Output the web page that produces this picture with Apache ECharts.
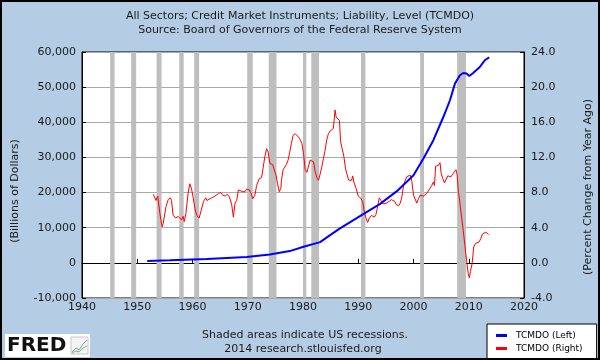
<!DOCTYPE html>
<html>
<head>
<meta charset="utf-8">
<script src="https://cdn.jsdelivr.net/npm/echarts@6/dist/echarts.min.js"></script>
<style>
html,body{margin:0;padding:0;background:#B4CDE5;}
#chart{width:600px;height:360px;}
</style>
</head>
<body>
<div id="chart"></div>
<script>
// ---- data ----
var xTicks = [1940, 1950, 1960, 1970, 1980, 1990, 2000, 2010, 2020];
var leftTicks = [-10000, 0, 10000, 20000, 30000, 40000, 50000, 60000];
var rightTicks = [-4, 0, 4, 8, 12, 16, 20, 24];

var levelYears = [1951.8, 1955.9, 1962.6, 1969.8, 1974.0, 1977.6, 1980.1, 1983.1, 1984.9, 1986.7, 1990.9, 1993.9, 1997.0, 2000.0, 2001.8, 2003.6, 2005.4, 2006.6, 2007.5, 2008.4, 2009.0, 2009.6, 2010.1, 2010.8, 2012.0, 2012.9, 2013.7];
var levelValues = [510, 710, 1080, 1650, 2400, 3350, 4600, 5900, 7900, 9800, 13870, 16700, 20400, 24950, 29700, 34900, 41500, 46270, 51000, 53370, 54030, 53860, 53170, 54030, 55730, 57640, 58490];

var pctYears = [1952.9, 1953.4, 1953.7, 1954.1, 1954.5, 1954.7, 1955.2, 1955.6, 1956.0, 1956.2, 1956.5, 1957.0, 1957.4, 1957.7, 1958.0, 1958.3, 1958.5, 1958.8, 1959.2, 1959.5, 1959.8, 1960.1, 1960.5, 1960.8, 1961.2, 1961.5, 1962.0, 1962.4, 1962.6, 1963.2, 1963.8, 1964.3, 1964.7, 1965.1, 1965.5, 1965.9, 1966.3, 1966.7, 1967.1, 1967.4, 1967.7, 1968.0, 1968.3, 1968.6, 1969.1, 1969.5, 1969.8, 1970.3, 1970.6, 1970.9, 1971.3, 1971.6, 1972.1, 1972.5, 1972.8, 1973.1, 1973.4, 1973.7, 1974.0, 1974.5, 1974.8, 1975.1, 1975.4, 1975.7, 1976.0, 1976.1, 1976.4, 1976.7, 1977.0, 1977.3, 1977.6, 1977.9, 1978.2, 1978.6, 1978.9, 1979.2, 1979.5, 1979.8, 1980.1, 1980.4, 1980.7, 1981.0, 1981.3, 1981.6, 1981.9, 1982.2, 1982.5, 1982.8, 1983.1, 1983.4, 1983.7, 1984.0, 1984.3, 1984.6, 1984.9, 1985.2, 1985.5, 1985.8, 1986.0, 1986.3, 1986.6, 1986.8, 1987.1, 1987.4, 1987.7, 1988.0, 1988.3, 1988.5, 1988.8, 1989.0, 1989.2, 1989.6, 1990.0, 1990.4, 1990.8, 1991.1, 1991.4, 1991.7, 1992.0, 1992.4, 1992.9, 1993.2, 1993.5, 1993.8, 1994.1, 1994.5, 1994.8, 1995.1, 1995.6, 1996.0, 1996.3, 1996.6, 1996.9, 1997.3, 1997.6, 1997.9, 1998.2, 1998.5, 1998.8, 1999.1, 1999.4, 1999.7, 2000.0, 2000.3, 2000.6, 2000.9, 2001.2, 2001.5, 2001.8, 2002.1, 2002.4, 2002.7, 2003.0, 2003.3, 2003.6, 2003.8, 2004.0, 2004.2, 2004.5, 2004.8, 2005.0, 2005.3, 2005.6, 2005.9, 2006.2, 2006.5, 2006.8, 2007.1, 2007.4, 2007.7, 2007.9, 2008.1, 2008.4, 2008.7, 2009.0, 2009.3, 2009.6, 2009.9, 2010.1, 2010.3, 2010.6, 2010.9, 2011.2, 2011.5, 2011.9, 2012.2, 2012.5, 2012.8, 2013.1, 2013.4, 2013.6];
var pctValues = [7.8, 7.1, 7.6, 5.6, 4.1, 4.5, 6.4, 7.2, 7.4, 7.1, 5.4, 5.1, 5.3, 5.4, 4.9, 5.3, 4.7, 5.6, 7.9, 9.0, 8.5, 7.5, 6.0, 5.4, 5.1, 5.8, 7.0, 7.4, 7.1, 7.3, 7.5, 7.7, 7.9, 8.0, 7.7, 7.6, 7.8, 7.5, 6.6, 5.2, 6.8, 7.1, 8.3, 8.5, 8.1, 8.1, 8.4, 8.3, 7.9, 7.3, 7.7, 8.8, 9.6, 9.7, 10.9, 12.1, 13.0, 12.6, 11.3, 11.2, 11.1, 10.0, 9.0, 8.1, 8.5, 9.4, 10.6, 10.9, 11.2, 11.7, 12.6, 13.6, 14.5, 14.7, 14.5, 14.3, 14.0, 13.6, 12.4, 10.6, 10.3, 10.2, 11.7, 11.9, 11.5, 10.4, 9.7, 9.4, 10.1, 10.9, 11.9, 12.8, 14.0, 14.7, 15.0, 14.9, 15.3, 17.4, 16.6, 16.4, 16.2, 13.8, 13.6, 12.1, 10.7, 10.0, 9.4, 9.5, 9.4, 9.9, 9.2, 8.5, 7.6, 7.4, 7.0, 5.8, 5.1, 4.6, 5.1, 5.4, 5.2, 5.5, 6.4, 7.4, 7.1, 6.7, 6.5, 6.8, 7.0, 7.2, 7.1, 7.0, 6.6, 6.5, 6.8, 7.5, 8.8, 9.4, 9.8, 9.6, 10.0, 9.3, 7.7, 7.5, 6.8, 7.3, 7.7, 7.5, 7.6, 7.5, 7.9, 7.7, 8.5, 8.8, 9.2, 8.8, 11.0, 10.9, 11.1, 11.4, 10.2, 9.6, 9.1, 9.3, 9.9, 10.0, 9.8, 10.1, 10.3, 10.6, 10.0, 8.3, 6.8, 5.2, 3.7, 2.0, 0.3, -1.2, -1.7, -1.0, -0.1, 1.8, 2.2, 2.1, 2.4, 2.8, 3.3, 3.5, 3.5, 3.3, 3.2];

var recessionStarts = [1945.1, 1948.9, 1953.5, 1957.6, 1960.3, 1969.9, 1973.8, 1980.0, 1981.5, 1990.5, 2001.2, 2007.9];
var recessionEnds   = [1945.9, 1949.8, 1954.4, 1958.4, 1961.2, 1970.9, 1975.2, 1980.6, 1982.9, 1991.3, 2001.9, 2009.5];

var titleLines = ['All Sectors; Credit Market Instruments; Liability, Level (TCMDO)', 'Source: Board of Governors of the Federal Reserve System'];
var footLines = ['Shaded areas indicate US recessions.', '2014 research.stlouisfed.org'];
var seriesNames = ['TCMDO (Left)', 'TCMDO (Right)'];

// ---- build ----
function zip(a, b) { return a.map(function (v, i) { return [v, b[i]]; }); }
function commas(v) {
  var s = String(Math.abs(v)).replace(/\B(?=(\d{3})+(?!\d))/g, ',');
  return (v < 0 ? '-' : '') + s;
}
var FONT = 'DejaVu Sans';
var chart = echarts.init(document.getElementById('chart'), null, {renderer: 'canvas'});

var recessionAreas = recessionStarts.map(function (s, i) {
  return [{xAxis: s}, {xAxis: recessionEnds[i]}];
});

chart.setOption({
  backgroundColor: '#B4CDE5',
  animation: false,
  textStyle: {fontFamily: FONT},
  title: {
    text: titleLines.join('\n'),
    left: 'center', top: 4,
    textStyle: {fontFamily: FONT, fontSize: 11, fontWeight: 'normal', color: '#1a1a1a', lineHeight: 14}
  },
  grid: {left: 82, right: 76, top: 52, bottom: 62, show: true, backgroundColor: '#fff', borderColor: '#000', borderWidth: 1},
  legend: {
    data: seriesNames, orient: 'vertical', left: 487, top: 324,
    icon: 'rect', itemWidth: 11, itemHeight: 3, itemGap: 4,
    padding: [7, 14, 7, 9],
    backgroundColor: '#fff', borderColor: '#000', borderWidth: 1,
    textStyle: {fontFamily: FONT, fontSize: 9, color: '#000', padding: [0, 0, 0, 4]}
  },
  xAxis: {
    type: 'value', min: xTicks[0], max: xTicks[xTicks.length - 1], interval: 10,
    axisLine: {show: true, lineStyle: {color: '#000'}},
    axisTick: {show: true, inside: true, length: 4, lineStyle: {color: '#000'}},
    axisLabel: {formatter: function (v) { return String(v); }, fontFamily: FONT, fontSize: 11, color: '#1a1a1a', margin: 4},
    splitLine: {show: false}
  },
  yAxis: [{
    type: 'value', position: 'left', min: leftTicks[0], max: leftTicks[leftTicks.length - 1], interval: 10000,
    axisLine: {show: true, lineStyle: {color: '#000'}},
    axisTick: {show: true, inside: true, length: 4, lineStyle: {color: '#000'}},
    axisLabel: {formatter: commas, fontFamily: FONT, fontSize: 11, color: '#1a1a1a', margin: 6},
    splitLine: {show: true, lineStyle: {color: '#A8A8A8', width: 1}}
  }, {
    type: 'value', position: 'right', min: rightTicks[0], max: rightTicks[rightTicks.length - 1], interval: 4,
    axisLine: {show: true, lineStyle: {color: '#000'}},
    axisTick: {show: true, inside: true, length: 4, lineStyle: {color: '#000'}},
    axisLabel: {formatter: function (v) { return v.toFixed(1); }, fontFamily: FONT, fontSize: 11, color: '#1a1a1a', margin: 7},
    splitLine: {show: false}
  }],
  series: [{
    name: 'recessions', type: 'line', data: [], z: 1, silent: true,
    markArea: {silent: true, itemStyle: {color: '#BEBEBE', opacity: 1}, data: recessionAreas}
  }, {
    name: seriesNames[0], type: 'line', yAxisIndex: 0, data: zip(levelYears, levelValues),
    showSymbol: false, z: 4, color: '#0000FF', lineStyle: {color: '#0000FF', width: 2}
  }, {
    name: seriesNames[1], type: 'line', yAxisIndex: 1, data: zip(pctYears, pctValues),
    showSymbol: false, z: 3, color: '#FF0000', lineStyle: {color: '#FF0000', width: 1}
  }],
  graphic: [
    {type: 'text', x: 15, y: 191, rotation: Math.PI / 2, style: {text: '(Billions of Dollars)', font: '11px "DejaVu Sans"', fill: '#1a1a1a', textAlign: 'center', textVerticalAlign: 'middle'}},
    {type: 'text', x: 588, y: 187, rotation: Math.PI / 2, style: {text: '(Percent Change from Year Ago)', font: '11px "DejaVu Sans"', fill: '#1a1a1a', textAlign: 'center', textVerticalAlign: 'middle'}},
    {type: 'text', x: 305, y: 335, style: {text: footLines[0], font: '11px "DejaVu Sans"', fill: '#1a1a1a', textAlign: 'center', textVerticalAlign: 'middle'}},
    {type: 'text', x: 303, y: 349, style: {text: footLines[1], font: '11px "DejaVu Sans"', fill: '#1a1a1a', textAlign: 'center', textVerticalAlign: 'middle'}},
    {type: 'rect', shape: {x: 5, y: 334, width: 85, height: 23}, style: {fill: '#fff'}},
    {type: 'text', x: 7, y: 346, style: {text: 'FRED', font: 'bold 20px "DejaVu Sans"', fill: '#111', textVerticalAlign: 'middle'}},
    {type: 'rect', shape: {x: 71, y: 337, width: 17, height: 17}, style: {fill: '#f4f4f4', stroke: '#c8c8c8', lineWidth: 1}},
    {type: 'polyline', shape: {points: [[72, 352], [76, 348], [79, 350], [83, 344], [87, 340]]}, style: {stroke: '#6a9fd0', lineWidth: 1, fill: null}},
    {type: 'polyline', shape: {points: [[72, 353], [76, 351], [79, 352], [83, 348], [87, 346]]}, style: {stroke: '#8dbb5a', lineWidth: 1, fill: null}},
    {type: 'rect', shape: {x: 1, y: 1, width: 598, height: 358}, style: {fill: null, stroke: '#000', lineWidth: 2}, z: 100}
  ]
});
</script>
</body>
</html>
